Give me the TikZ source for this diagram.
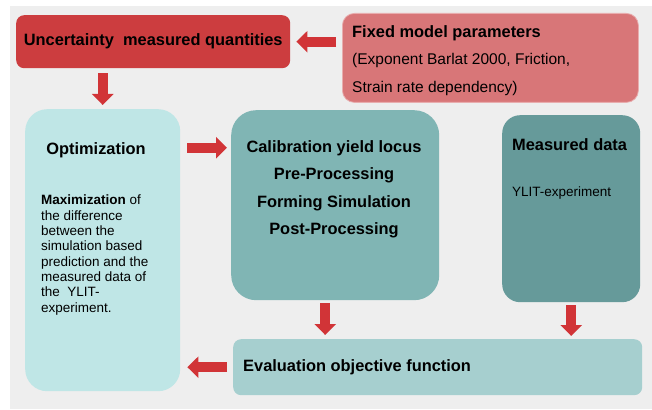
\documentclass[tikz,border=0pt]{standalone}
\usepackage{fontspec}
\setmainfont{Liberation Sans}
\usetikzlibrary{arrows.meta,positioning,calc}

\definecolor{panel}{HTML}{EEEEEE}
\definecolor{uncred}{HTML}{CC3D3F}
\definecolor{fixedred}{HTML}{D87678}
\definecolor{arrowred}{HTML}{D13437}
\definecolor{optcyan}{HTML}{BFE6E6}
\definecolor{calteal}{HTML}{80B5B4}
\definecolor{meateal}{HTML}{669A9A}
\definecolor{evalteal}{HTML}{A6CFCF}

\tikzset{
  box/.style={rectangle, inner sep=0pt, anchor=north west},
  blockarrow/.style={draw=arrowred, line width=10pt, -{Triangle[width=21pt,length=11pt]}},
  title/.style={font=\fontsize{16.4}{19}\selectfont\bfseries, inner sep=0pt},
  plain/.style={font=\fontsize{13.5}{15.3}\selectfont, inner sep=0pt},
}

\begin{document}
\begin{tikzpicture}[x=1pt, y=-1pt]
            \useasboundingbox (0,0) rectangle (652,409);
            % grey panel
            \fill[panel] (10,6) rectangle (652,409);
            % boxes
            \node (unc) [box, fill=uncred, rounded corners=8pt, minimum width=274pt, minimum height=53pt] at (16,15) {};
            \node (fixed) [box, fill=fixedred, draw=fixedred!60!white, line width=0.8pt, rounded corners=12pt, minimum width=296pt, minimum height=89pt] at (342,13) {};
            \node (opt) [box, fill=optcyan, rounded corners=22pt, minimum width=155pt, minimum height=282pt] at (25,109) {};
            \node (cal) [box, fill=calteal, rounded corners=25pt, minimum width=208pt, minimum height=190pt] at (231,110) {};
            \node (mea) [box, fill=meateal, rounded corners=18pt, minimum width=138pt, minimum height=187pt] at (502,115) {};
            \node (eval) [box, fill=evalteal, rounded corners=8pt, minimum width=409pt, minimum height=56pt] at (233,339) {};
            % texts
            \node (unctext) [title] at (unc.center) {Uncertainty\ \ measured quantities};
            \node (fix1) [title, anchor=base west] at (352,37.3) {Fixed model parameters};
            \node (fix2) [plain, font=\fontsize{15.5}{18}\selectfont, anchor=base west] at (352,65) {(Exponent Barlat 2000, Friction,};
            \node (fix3) [plain, font=\fontsize{15.5}{18}\selectfont, anchor=base west] at (352,92.3) {Strain rate dependency)};
            \node (opttitle) [title, anchor=base] at (96,154.5) {Optimization};
            \node (optbody) [plain, align=left, anchor=north west] at (41,195)
                  {\textbf{Maximization} of\\the difference\\between the\\simulation based\\prediction and the\\measured data of\\the\ \ YLIT-\\experiment.};
            \node (cal1) [title, anchor=base] at (334,152) {Calibration yield locus};
            \node (cal2) [title, anchor=base] at (334,179.5) {Pre-Processing};
            \node (cal3) [title, anchor=base] at (334,207) {Forming Simulation};
            \node (cal4) [title, anchor=base] at (334,234.5) {Post-Processing};
            \node (meatitle) [title, anchor=base west] at (512,150.7) {Measured data};
            \node (meatext) [plain, anchor=base west] at (512,196.7) {YLIT-experiment};
            \node (evaltext) [title, anchor=base west] at (243,371.7) {Evaluation objective function};
            % arrows
            \draw[blockarrow, shorten <=6pt, shorten >=6pt] (unc.east -| fixed.west) -- (unc.east);
            \draw[blockarrow, shorten <=5pt, shorten >=4pt] (opt.north |- unc.south) -- (opt.north);
            \draw[blockarrow, shorten <=7pt, shorten >=4pt] (opt.east |- cal1) -- (cal.west |- cal1);
            \draw[blockarrow, shorten <=6pt, shorten >=7pt] (eval.west) -- (eval.west -| opt.east);
            \draw[blockarrow, shorten <=3pt, shorten >=4pt] ([xshift=-10pt]cal.south) -- ([xshift=-10pt]cal.south |- eval.north);
            \draw[blockarrow, shorten <=3pt, shorten >=3pt] (mea.south) -- (mea.south |- eval.north);
\end{tikzpicture}
\end{document}
